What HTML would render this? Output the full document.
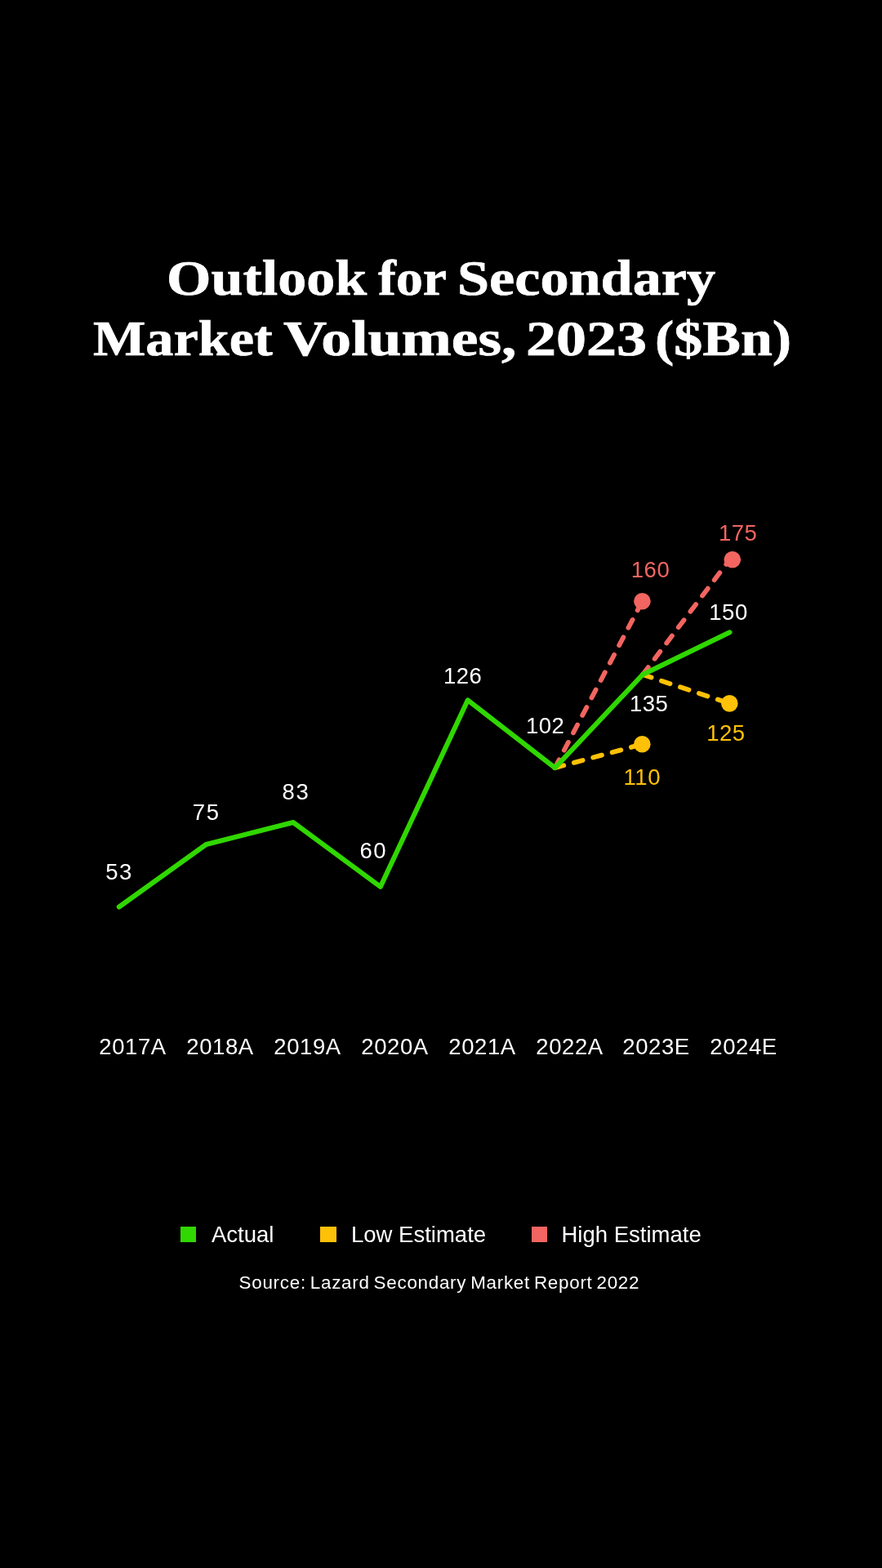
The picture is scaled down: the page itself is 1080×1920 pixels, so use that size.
<!DOCTYPE html>
<html lang="en">
<head>
<meta charset="utf-8">
<title>Outlook for Secondary Market Volumes, 2023 ($Bn)</title>
<style>
  html, body { margin: 0; padding: 0; background: #000; }
  body { width: 1080px; height: 1920px; position: relative; overflow: hidden;
         font-family: "Liberation Sans", sans-serif; color: #fff; }
  h1 { margin: 0; font-size: 61.5px; font-weight: bold; }
  .w { position: absolute; font-family: "Liberation Serif", serif; font-weight: bold; font-size: 61.5px;
       line-height: 70px; white-space: nowrap; transform-origin: 0 0; display: block; -webkit-text-stroke: 0.7px #fff; }
  .l1 { top: 305.2px; }
  .l2 { top: 379.4px; }
  svg { position: absolute; left: 0; top: 0; }
  .lbl { position: absolute; font-size: 27.5px; line-height: 30px; letter-spacing: 0.5px; white-space: nowrap; }
  .lbl.d2 { letter-spacing: 1.6px; }
  .ax { position: absolute; top: 1267px; margin-left: 0.3px; font-size: 27.5px; line-height: 30px; letter-spacing: 0.6px; white-space: nowrap; }
  .lg { position: absolute; top: 1496px; font-size: 27.5px; line-height: 32px; letter-spacing: 0; white-space: nowrap; }
  .sq { position: absolute; top: 1502px; width: 19.3px; height: 19.2px; }
  .src { position: absolute; top: 1558px; left: 292.6px; font-size: 22.4px; line-height: 26px; white-space: nowrap; letter-spacing: 0.73px; word-spacing: -2px; }
  .pink { color: #f26560; }
  .yel { color: #ffc107; }
</style>
</head>
<body>
  <h1>
    <span class="w l1" style="left:203.8px; transform:scaleX(1.139);">Outlook </span>
    <span class="w l1" style="left:463.4px; transform:scaleX(1.069);">for </span>
    <span class="w l1" style="left:560.2px; transform:scaleX(1.142);">Secondary </span>
    <span class="w l2" style="left:114.4px; transform:scaleX(1.109);">Market </span>
    <span class="w l2" style="left:346.7px; transform:scaleX(1.196);">Volumes, </span>
    <span class="w l2" style="left:643.8px; transform:scaleX(1.204);">2023 </span>
    <span class="w l2" style="left:801.5px; transform:scaleX(1.137);">($Bn)</span>
  </h1>

  <svg width="1080" height="1920" viewBox="0 0 1080 1920" fill="none">
    <g stroke-width="5.8" stroke-linecap="round" stroke-dasharray="11.1 13.1" stroke-dashoffset="0">
      <path d="M679.5 940.2 L786.3 736.5" stroke="#f26560"/>
      <path d="M787 826 L893.1 685.8" stroke="#f26560"/>
      <path d="M679.5 940.2 L786.3 911.3" stroke="#ffc107"/>
      <path d="M787 826 L893.3 861.4" stroke="#ffc107"/>
    </g>
    <circle cx="786.4" cy="736.3" r="10.3" fill="#f26560"/>
    <circle cx="896.8" cy="685.3" r="10.3" fill="#f26560"/>
    <circle cx="786.3" cy="911.3" r="10.3" fill="#ffc107"/>
    <circle cx="893.3" cy="861.4" r="10.3" fill="#ffc107"/>
    <path d="M145.8 1110.5 L252.4 1034 L359 1007 L465.9 1085.8 L572.8 857.3 L679.5 940.2 L787 826 L893.5 774.3"
          stroke="#30d700" stroke-width="6" stroke-linecap="round" stroke-linejoin="round"/>
  </svg>

  <div class="lbl d2" style="left:129.2px; top:1053.1px;">53</div>
  <div class="lbl d2" style="left:235.8px; top:980.0px;">75</div>
  <div class="lbl d2" style="left:345.5px; top:955.3px;">83</div>
  <div class="lbl d2" style="left:440.4px; top:1026.8px;">60</div>
  <div class="lbl" style="left:543.0px; top:813.0px;">126</div>
  <div class="lbl" style="left:644.0px; top:873.6px;">102</div>
  <div class="lbl" style="left:771.0px; top:846.8px;">135</div>
  <div class="lbl" style="left:868.3px; top:735.3px;">150</div>
  <div class="lbl pink" style="left:772.8px; top:682.9px;">160</div>
  <div class="lbl pink" style="left:880.0px; top:637.7px;">175</div>
  <div class="lbl yel" style="left:763.6px; top:937.2px;">110</div>
  <div class="lbl yel" style="left:865.2px; top:882.8px;">125</div>

  <div class="ax" style="left:121px;">2017A</div>
  <div class="ax" style="left:228px;">2018A</div>
  <div class="ax" style="left:335px;">2019A</div>
  <div class="ax" style="left:442px;">2020A</div>
  <div class="ax" style="left:549px;">2021A</div>
  <div class="ax" style="left:656px;">2022A</div>
  <div class="ax" style="left:762px;">2023E</div>
  <div class="ax" style="left:869px;">2024E</div>

  <div class="sq" style="left:220.8px; background:#30d700;"></div>
  <div class="lg" style="left:259px;">Actual</div>
  <div class="sq" style="left:392.3px; background:#ffc107;"></div>
  <div class="lg" style="left:430px;">Low Estimate</div>
  <div class="sq" style="left:650.8px; background:#f26560;"></div>
  <div class="lg" style="left:687.5px;">High Estimate</div>

  <div class="src">Source: Lazard Secondary Market Report 2022</div>
</body>
</html>
